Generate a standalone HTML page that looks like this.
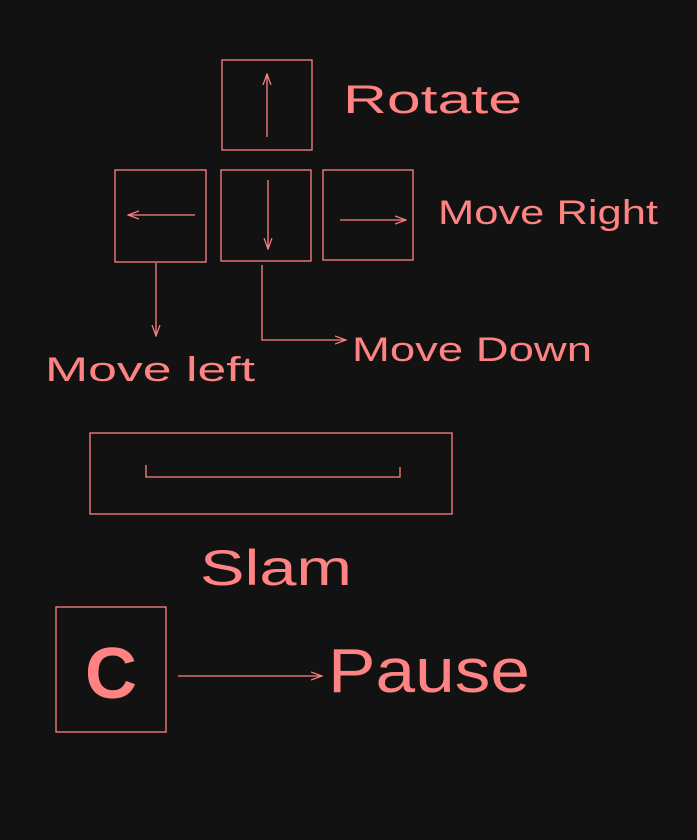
<!DOCTYPE html>
<html><head><meta charset="utf-8"><style>
html,body{margin:0;padding:0;background:#121212;}
svg{display:block}
text{font-family:"Liberation Sans",sans-serif;fill:#ff8383;}
</style></head><body>
<svg width="697" height="840" viewBox="0 0 697 840">
<defs>
<marker id="ah" markerWidth="12" markerHeight="10" refX="11" refY="5" orient="auto" markerUnits="userSpaceOnUse">
<path d="M0,1 L11,5 L0,9" fill="none" stroke="#ff8383" stroke-width="1.2"/>
</marker>
</defs>
<g fill="none" stroke="#ff8383" stroke-width="1.3">
<rect x="222" y="60" width="90" height="90"/>
<line x1="267" y1="137" x2="267" y2="74" marker-end="url(#ah)"/>
<rect x="115" y="170" width="91" height="92"/>
<line x1="195" y1="215" x2="128" y2="215" marker-end="url(#ah)"/>
<rect x="221" y="170" width="90" height="91"/>
<line x1="268" y1="180" x2="268" y2="249" marker-end="url(#ah)"/>
<rect x="323" y="170" width="90" height="90"/>
<line x1="340" y1="220" x2="406" y2="220" marker-end="url(#ah)"/>
<line x1="156" y1="263" x2="156" y2="336" marker-end="url(#ah)"/>
<polyline points="262,265 262,340 346,340" marker-end="url(#ah)"/>
<rect x="90" y="433" width="362" height="81"/>
<polyline points="146,465 146,477 400,477 400,467"/>
<rect x="56" y="607" width="110" height="125"/>
<line x1="178" y1="676" x2="322" y2="676" marker-end="url(#ah)"/>
</g>
<text x="343" y="113" font-size="40" textLength="179" lengthAdjust="spacingAndGlyphs">Rotate</text>
<text x="438" y="224" font-size="34" textLength="220" lengthAdjust="spacingAndGlyphs">Move Right</text>
<text x="45" y="381" font-size="34" textLength="210" lengthAdjust="spacingAndGlyphs">Move left</text>
<text x="352" y="361" font-size="34" textLength="240" lengthAdjust="spacingAndGlyphs">Move Down</text>
<text x="200" y="585" font-size="50" textLength="152" lengthAdjust="spacingAndGlyphs">Slam</text>
<text x="111" y="698" font-size="72" font-weight="bold" text-anchor="middle">C</text>
<text x="328" y="692" font-size="62" textLength="202" lengthAdjust="spacingAndGlyphs">Pause</text>
</svg>
</body></html>
